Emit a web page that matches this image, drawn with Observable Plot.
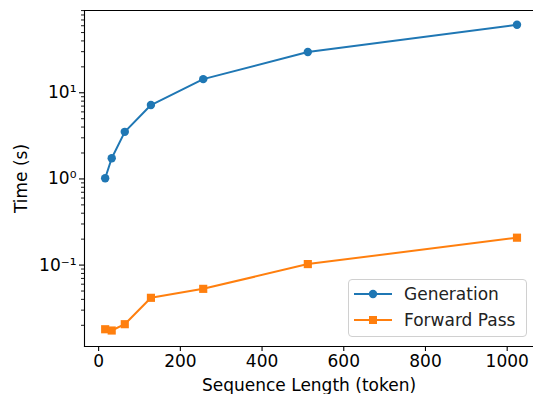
<!DOCTYPE html>
<html>
<head>
<meta charset="utf-8">
<script src="https://cdn.jsdelivr.net/npm/d3@7"></script>
<script src="https://cdn.jsdelivr.net/npm/@observablehq/plot@0.6"></script>
<style>
  html, body { margin: 0; padding: 0; background: #fff; }
  #wrap { position: relative; width: 533px; height: 394px; font-family: "DejaVu Sans", sans-serif; }
  #legend { position: absolute; left: 348px; top: 279px; width: 179px; height: 58px; box-sizing: border-box;
    border: 1px solid #d0d0d0; border-radius: 4px; background: rgba(255,255,255,0.8); font-size: 17px; color: #222; }
  .item { position: absolute; left: 5px; display: flex; align-items: center; }
  .item span { margin-left: 12px; }
</style>
</head>
<body>
<div id="wrap"><div id="legend"></div></div>
<script>
const seqLen = [16, 32, 64, 128, 256, 512, 1024];
const generation = [1.02, 1.74, 3.52, 7.2, 14.4, 29.7, 61.5];
const forwardPass = [0.018, 0.0174, 0.0206, 0.0417, 0.053, 0.1027, 0.208];
const seriesNames = ["Generation", "Forward Pass"];
const seriesColors = ["#1f77b4", "#ff7f0e"];
const seriesSymbols = ["circle", "square"];
const xTicks = [0, 200, 400, 600, 800, 1000];
const yTicks = [0.1, 1, 10];
const yTickLabels = ["10⁻¹", "10⁰", "10¹"];

const genData = seqLen.map((x, i) => ({x, y: generation[i]}));
const fwdData = seqLen.map((x, i) => ({x, y: forwardPass[i]}));

const yMinor = [];
for (const d of [0.01, 0.1, 1, 10]) for (let k = 2; k <= 9; k++) yMinor.push(+(d * k).toPrecision(3));

const chart = Plot.plot({
  width: 533,
  height: 394,
  marginLeft: 84,
  marginRight: 0,
  marginTop: 10,
  marginBottom: 48,
  style: {fontFamily: "DejaVu Sans, sans-serif", fontSize: "17px", color: "#000", background: "#fff"},
  x: {domain: [-34.6, 1064.4]},
  y: {type: "log", domain: [Math.pow(10, -1.945), Math.pow(10, 1.955)]},
  marks: [
    Plot.frame({anchor: "left", stroke: "#000", strokeWidth: 1.1}),
    Plot.frame({anchor: "top", stroke: "#000", strokeWidth: 1.1}),
    Plot.frame({anchor: "bottom", stroke: "#000", strokeWidth: 1.1}),
    Plot.axisX({ticks: xTicks, tickFormat: (d) => String(d), tickSize: 5, tickPadding: 3, label: "Sequence Length (token)", labelAnchor: "center", labelArrow: "none", labelOffset: 44, strokeWidth: 1.1}),
    Plot.axisY({ticks: yTicks, tickFormat: (d) => yTickLabels[yTicks.indexOf(d)], tickSize: 5, tickPadding: 3, label: "Time (s)", labelAnchor: "center", labelArrow: "none", labelOffset: 70, strokeWidth: 1.1}),
    Plot.axisY({ticks: yMinor, tickFormat: () => "", tickSize: 3, label: null, strokeWidth: 0.9}),
    Plot.line(genData, {x: "x", y: "y", stroke: seriesColors[0], strokeWidth: 2}),
    Plot.dot(genData, {x: "x", y: "y", fill: seriesColors[0], symbol: seriesSymbols[0], r: 4.2}),
    Plot.line(fwdData, {x: "x", y: "y", stroke: seriesColors[1], strokeWidth: 2}),
    Plot.dot(fwdData, {x: "x", y: "y", fill: seriesColors[1], symbol: seriesSymbols[1], r: 4.6})
  ]
});
document.getElementById("wrap").prepend(chart);

const legend = document.getElementById("legend");
seriesNames.forEach((name, i) => {
  const item = document.createElement("div");
  item.className = "item";
  item.style.top = (4 + i * 26) + "px";
  const marker = seriesSymbols[i] === "circle"
    ? `<circle cx="19" cy="10" r="4.2" fill="${seriesColors[i]}"/>`
    : `<rect x="15" y="6" width="8" height="8" fill="${seriesColors[i]}"/>`;
  item.innerHTML = `<svg width="38" height="20"><line x1="0" x2="38" y1="10" y2="10" stroke="${seriesColors[i]}" stroke-width="2"/>${marker}</svg><span>${name}</span>`;
  legend.appendChild(item);
});
</script>
</body>
</html>
